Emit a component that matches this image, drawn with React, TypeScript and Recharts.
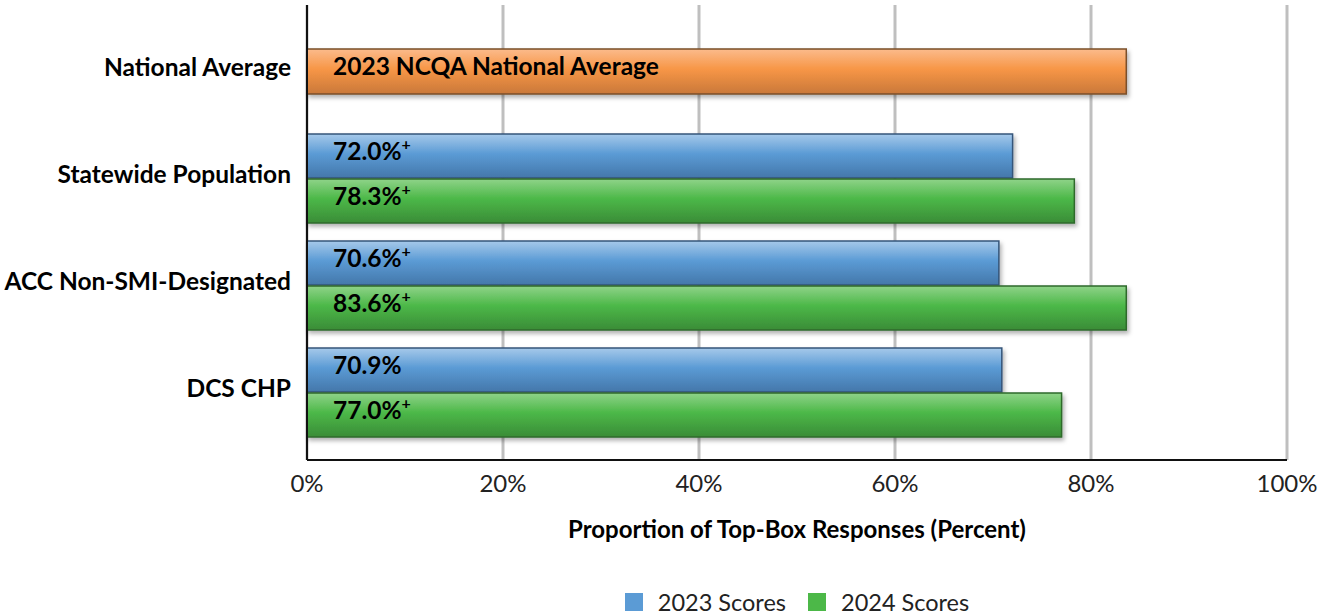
import React from 'react';
import { BarChart, Bar, XAxis, YAxis, CartesianGrid, Legend, LabelList } from 'recharts';

const categories = ['National Average', 'Statewide Population', 'ACC Non-SMI-Designated', 'DCS CHP'];
const natAvg: (number | null)[] = [83.6, null, null, null];
const natLabels: (string | null)[] = ['2023 NCQA National Average', null, null, null];
const scores2023: (number | null)[] = [null, 72.0, 70.6, 70.9];
const scores2024: (number | null)[] = [null, 78.3, 83.6, 77.0];
const plus2023 = [false, true, true, false];
const plus2024 = [false, true, true, true];
const xTicks = [0, 20, 40, 60, 80, 100];
const seriesNames = ['2023 Scores', '2024 Scores'];

const FONT = "Lato, 'Open Sans', sans-serif";
const BLUE = '#5b9bd5';
const GREEN = '#4cb848';

const fmt = (v: number | null, plus: boolean) =>
  v == null ? null : `${v.toFixed(1)}%${plus ? '+' : ''}`;

const data = categories.map((name, i) => ({
  name,
  nat: natAvg[i],
  natLabel: natLabels[i],
  s2023: scores2023[i],
  s2024: scores2024[i],
  l2023: fmt(scores2023[i], plus2023[i]),
  l2024: fmt(scores2024[i], plus2024[i]),
}));

const BarLabel = (props: any) => {
  const { x, y, height, value } = props;
  if (value == null || value === '') return null;
  const s = String(value);
  const hasPlus = s.endsWith('+') && s.length < 10;
  const main = hasPlus ? s.slice(0, -1) : s;
  return (
    <text
      x={Number(x) + 26}
      y={Number(y) + Number(height) / 2 - 6}
      dominantBaseline="central"
      fontFamily={FONT}
      fontWeight={700}
      fontSize={24.5}
      fill="#000"
    >
      {main}
      {hasPlus && (
        <tspan fontSize={16} dy={-7}>
          +
        </tspan>
      )}
    </text>
  );
};

const CatTick = (props: any) => {
  const { x, y, payload } = props;
  return (
    <text
      x={x}
      y={y - 5}
      textAnchor="end"
      dominantBaseline="central"
      fontFamily={FONT}
      fontWeight={700}
      fontSize={24.5}
      fill="#000"
    >
      {payload.value}
    </text>
  );
};

const LegendContent = () => (
  <div
    style={{
      boxSizing: 'border-box',
      height: 40,
      paddingTop: 14,
      paddingLeft: 307,
      display: 'flex',
      justifyContent: 'center',
      alignItems: 'center',
      fontFamily: FONT,
      fontSize: 23.5,
      color: '#222',
    }}
  >
    {[BLUE, GREEN].map((c, i) => (
      <div key={i} style={{ display: 'flex', alignItems: 'center', marginLeft: i ? 22 : 0 }}>
        <span style={{ width: 18, height: 18, background: c, display: 'inline-block', marginRight: 15 }} />
        <span>{seriesNames[i]}</span>
      </div>
    ))}
  </div>
);

export default function App() {
  return (
    <div style={{ width: 1330, height: 615, background: '#fff' }}>
      <style>{'body{margin:0;background:#fff}'}</style>
      <BarChart
        width={1330}
        height={615}
        data={data}
        layout="vertical"
        margin={{ top: 5, right: 43, bottom: 0, left: 0 }}
        barGap={1}
      >
        <defs>
          <linearGradient id="gBlue" x1="0" y1="0" x2="0" y2="1">
            <stop offset="0%" stopColor="#a6c9ea" />
            <stop offset="45%" stopColor="#5b9bd5" />
            <stop offset="100%" stopColor="#4477aa" />
          </linearGradient>
          <linearGradient id="gGreen" x1="0" y1="0" x2="0" y2="1">
            <stop offset="0%" stopColor="#8fd389" />
            <stop offset="45%" stopColor="#4cb848" />
            <stop offset="100%" stopColor="#3a8c37" />
          </linearGradient>
          <linearGradient id="gOrange" x1="0" y1="0" x2="0" y2="1">
            <stop offset="0%" stopColor="#fbbb8c" />
            <stop offset="45%" stopColor="#f79646" />
            <stop offset="100%" stopColor="#c9783a" />
          </linearGradient>
          <filter id="shadow" x="-5%" y="-20%" width="110%" height="150%">
            <feDropShadow dx="2" dy="3" stdDeviation="2" floodColor="#000" floodOpacity="0.3" />
          </filter>
        </defs>
        <CartesianGrid horizontal={false} stroke="#bfbfbf" strokeWidth={3} />
        <XAxis
          type="number"
          domain={[0, 100]}
          ticks={xTicks}
          tickFormatter={(v: number) => `${v}%`}
          height={115}
          tickLine={false}
          tickSize={0}
          tickMargin={15}
          axisLine={{ stroke: '#111', strokeWidth: 2 }}
          tick={{ fill: '#222', fontSize: 24, fontFamily: FONT }}
          interval={0}
          label={{
            value: 'Proportion of Top-Box Responses (Percent)',
            position: 'insideBottom',
            offset: 37,
            style: { fill: '#000', fontSize: 24, fontWeight: 700, fontFamily: FONT },
          }}
        />
        <YAxis
          type="category"
          dataKey="name"
          width={307}
          tickLine={false}
          tickSize={0}
          tickMargin={16}
          axisLine={{ stroke: '#111', strokeWidth: 2 }}
          tick={<CatTick />}
          padding={{ top: 13, bottom: 14 }}
          interval={0}
        />
        <YAxis
          yAxisId="nat"
          type="category"
          dataKey="name"
          hide
          padding={{ top: 13, bottom: 14 }}
        />
        <Legend verticalAlign="bottom" content={<LegendContent />} />
        <Bar
          dataKey="nat"
          yAxisId="nat"
          barSize={45}
          fill="url(#gOrange)"
          stroke="#7a4f2a"
          strokeWidth={1.5}
          filter="url(#shadow)"
          isAnimationActive={false}
          legendType="none"
        >
          <LabelList dataKey="natLabel" content={<BarLabel />} />
        </Bar>
        <Bar
          dataKey="s2023"
          name={seriesNames[0]}
          barSize={44}
          fill="url(#gBlue)"
          stroke="#34557a"
          strokeWidth={1.5}
          filter="url(#shadow)"
          isAnimationActive={false}
        >
          <LabelList dataKey="l2023" content={<BarLabel />} />
        </Bar>
        <Bar
          dataKey="s2024"
          name={seriesNames[1]}
          barSize={44}
          fill="url(#gGreen)"
          stroke="#2e6a2b"
          strokeWidth={1.5}
          filter="url(#shadow)"
          isAnimationActive={false}
        >
          <LabelList dataKey="l2024" content={<BarLabel />} />
        </Bar>
      </BarChart>
    </div>
  );
}
